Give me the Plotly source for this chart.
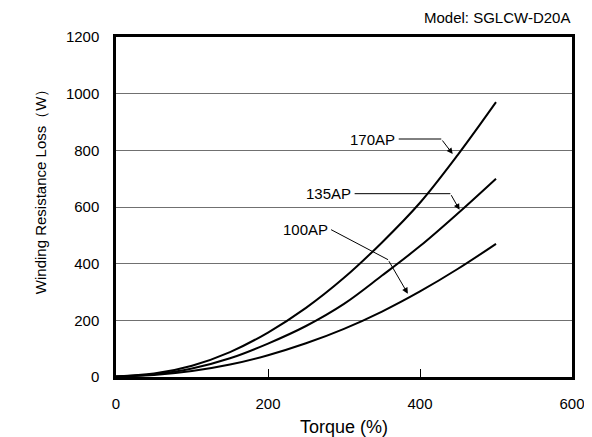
import plotly.graph_objects as go

# Torque (%) and winding resistance loss (W)
torque = [0, 50, 100, 150, 200, 250, 300, 350, 400, 450, 500]
loss_170ap = [2, 12, 40, 88, 157, 244, 350, 475, 615, 785, 970]
loss_135ap = [2, 10, 30, 66, 118, 180, 258, 358, 462, 578, 700]
loss_100ap = [2, 7, 21, 44, 77, 119, 170, 231, 302, 382, 470]

# Label text, leader bend point and arrow tip (data units)
labels = ["170AP", "135AP", "100AP"]
label_x = [370, 312, 281]
label_y = [840, 647, 520]
bend_x = [428, 440, 358]
bend_y = [840, 647, 414]
tip_x = [443, 452, 384]
tip_y = [787, 590, 294]

x_ticks = [0, 200, 400, 600]
y_ticks = [0, 200, 400, 600, 800, 1000, 1200]

FONT = "Liberation Sans, Arial, sans-serif"

fig = go.Figure()

for ys in [loss_170ap, loss_135ap, loss_100ap]:
    fig.add_trace(
        go.Scatter(
            x=torque,
            y=ys,
            mode="lines",
            line=dict(color="black", width=2, shape="spline"),
            showlegend=False,
            hoverinfo="skip",
        )
    )

# leader lines from label to bend, arrow from bend to curve
for i, name in enumerate(labels):
    fig.add_trace(
        go.Scatter(
            x=[label_x[i] + 2, bend_x[i]],
            y=[label_y[i], bend_y[i]],
            mode="lines",
            line=dict(color="black", width=1),
            showlegend=False,
            hoverinfo="skip",
        )
    )
    fig.add_annotation(
        x=tip_x[i], y=tip_y[i], ax=bend_x[i], ay=bend_y[i],
        xref="x", yref="y", axref="x", ayref="y",
        text="", showarrow=True, arrowhead=2, arrowsize=1.2,
        arrowwidth=1, arrowcolor="black",
    )
    fig.add_annotation(
        x=label_x[i], y=label_y[i], xref="x", yref="y",
        text=name, showarrow=False, xanchor="right",
        font=dict(family=FONT, size=15, color="black"),
    )

fig.add_annotation(
    x=1.0, y=1.0, xref="paper", yref="paper", yshift=9,
    text="Model: SGLCW-D20A", showarrow=False,
    xanchor="right", yanchor="bottom",
    font=dict(family=FONT, size=15, color="black"),
)
fig.add_annotation(
    x=-0.164, y=0.556, xref="paper", yref="paper",
    xanchor="center", yanchor="middle",
    text="Winding Resistance Loss（W）", showarrow=False,
    textangle=-90,
    font=dict(family=FONT, size=15, color="black"),
)

fig.update_layout(
    width=592,
    height=437,
    margin=dict(l=108, r=28, t=29, b=68),
    plot_bgcolor="#FFFFFF",
    paper_bgcolor="#FFFFFF",
    font=dict(family=FONT, size=15, color="black"),
    xaxis=dict(
        range=[0, 600],
        tickvals=x_ticks,
        ticks="inside",
        ticklen=8,
        tickcolor="black",
        ticklabelstandoff=11,
        showgrid=False,
        zeroline=False,
        showline=True,
        linecolor="black",
        linewidth=2.5,
        mirror=True,
        title=dict(text="Torque (%)", standoff=10),
    ),
    yaxis=dict(
        range=[0, 1200],
        tickvals=y_ticks,
        ticks="",
        ticklabelstandoff=11,
        showgrid=True,
        gridcolor="#707070",
        gridwidth=1,
        zeroline=False,
        showline=True,
        linecolor="black",
        linewidth=2.5,
        mirror=True,
    ),
)

fig.write_html("out.html")
